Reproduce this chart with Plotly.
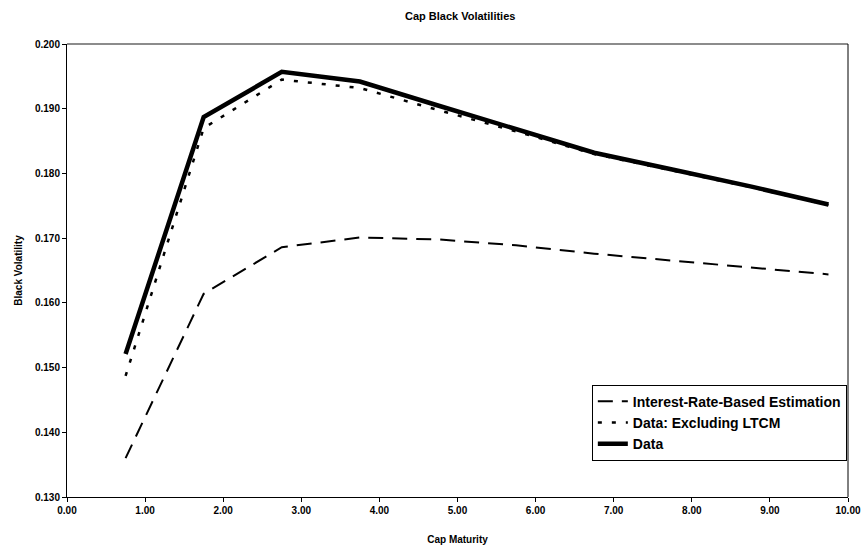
import plotly.graph_objects as go

maturity = [0.75, 1.75, 2.75, 3.75, 4.75, 5.75, 6.75, 7.75, 8.75, 9.75]
interest_rate_based = [0.1360, 0.1614, 0.1686, 0.1701, 0.1698, 0.1689, 0.1676, 0.1665, 0.1655, 0.1644]
data_ex_ltcm = [0.1487, 0.1870, 0.1945, 0.1932, 0.1898, 0.1865, 0.1830, 0.1805, 0.1779, 0.1751]
data_all = [0.1521, 0.1887, 0.1957, 0.1942, 0.1905, 0.1868, 0.1832, 0.1806, 0.1780, 0.1752]

FONT = "Liberation Sans, Arial, sans-serif"

fig = go.Figure()
fig.add_trace(go.Scatter(x=maturity, y=interest_rate_based, mode="lines",
                         name="<b>Interest-Rate-Based Estimation</b>",
                         line=dict(color="black", width=2, dash="15px,9px")))
fig.add_trace(go.Scatter(x=maturity, y=data_ex_ltcm, mode="lines",
                         name="<b>Data: Excluding LTCM</b>",
                         line=dict(color="black", width=2.5, dash="4px,10px")))
fig.add_trace(go.Scatter(x=maturity, y=data_all, mode="lines",
                         name="<b>Data</b>",
                         line=dict(color="black", width=4.5)))

fig.update_layout(
    width=865, height=546,
    margin=dict(l=67, r=17, t=44, b=49, autoexpand=False),
    paper_bgcolor="white", plot_bgcolor="white",
    font=dict(family=FONT, color="black", size=10),
    title=dict(text="<b>Cap Black Volatilities</b>", x=0.532, xanchor="center",
               y=0.97, yanchor="middle", font=dict(size=11, family=FONT)),
    showlegend=True,
    legend=dict(x=0.672, xanchor="left", y=0.248, yanchor="top",
                bgcolor="white", bordercolor="black", borderwidth=1,
                font=dict(size=14, family=FONT), tracegroupgap=0,
                itemwidth=30),
    xaxis=dict(range=[0, 10], dtick=1, tick0=0, tickformat=".2f", automargin=False,
               showgrid=False, zeroline=False, showline=True, linecolor="black",
               linewidth=1, ticks="outside", ticklen=4, tickcolor="black",
               tickfont=dict(size=10, family=FONT),
               title=dict(text="<b>Cap Maturity</b>", font=dict(size=10), standoff=20)),
    yaxis=dict(range=[0.130, 0.200], dtick=0.01, tick0=0.13, tickformat=".3f", automargin=False,
               showgrid=False, zeroline=False, showline=True, linecolor="black",
               linewidth=1, ticks="outside", ticklen=4, tickcolor="black",
               tickfont=dict(size=10, family=FONT),
               title=dict(text="<b>Black Volatility</b>", font=dict(size=10), standoff=10)),
)
fig.update_xaxes(tickprefix="<b>", ticksuffix="</b>")
fig.update_yaxes(tickprefix="<b>", ticksuffix="</b>")

fig.add_shape(type="line", xref="paper", yref="paper", x0=0, x1=1, y0=1, y1=1,
              line=dict(color="#666666", width=1.5))
fig.add_shape(type="line", xref="paper", yref="paper", x0=1, x1=1, y0=0, y1=1,
              line=dict(color="black", width=1))

fig.write_html("out.html")
